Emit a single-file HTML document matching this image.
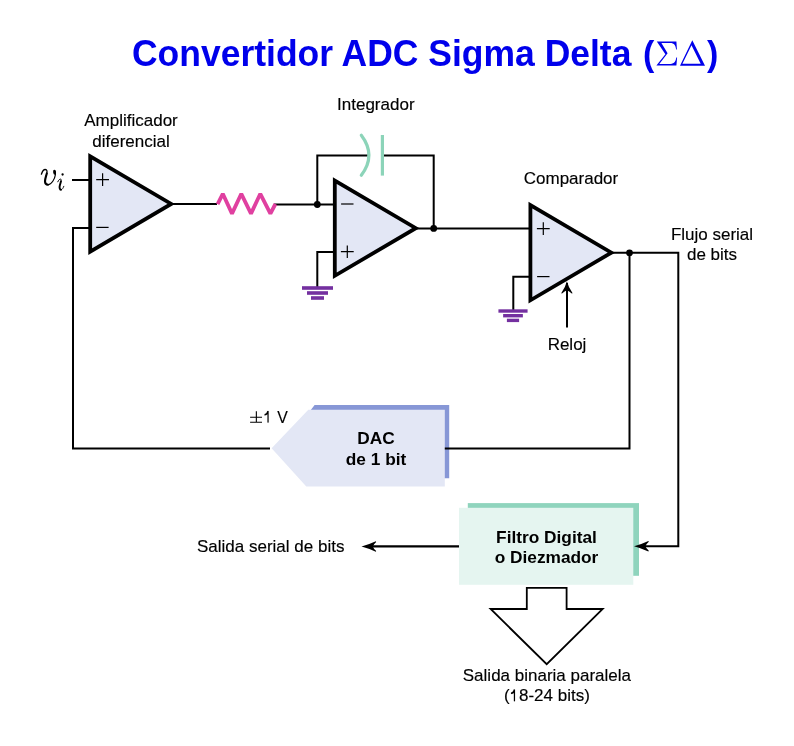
<!DOCTYPE html>
<html><head><meta charset="utf-8">
<style>
html,body{margin:0;padding:0;background:#fff;width:794px;height:746px;overflow:hidden}
svg{display:block;will-change:transform}
text{font-family:"Liberation Sans",sans-serif}
</style></head><body>
<svg width="794" height="746" viewBox="0 0 794 746">
<defs>
  <g id="oa">
    <path d="M0,0 L0,95.3 L81,47.65 Z" fill="#e3e7f5" stroke="#000" stroke-width="3.8" stroke-linejoin="miter"/>
  </g>
  <g id="plus"><path d="M-6.4,0 H6.4 M0,-6.3 V6.3" stroke="#000" stroke-width="1.2" fill="none"/></g>
  <g id="minus"><path d="M-6.2,0 H6.2" stroke="#000" stroke-width="1.2" fill="none"/></g>
  <g id="gnd" fill="#7430a0">
    <rect x="-15.5" y="-1.8" width="31" height="3.6"/>
    <rect x="-10.5" y="3.2" width="21" height="3.6"/>
    <rect x="-6.5" y="8.2" width="13" height="3.6"/>
  </g>
</defs>

<!-- Title -->
<g transform="translate(0,65.7) scale(1,1.055)">
<text x="132" y="0" font-size="35.5" font-weight="bold" fill="#0000eb">Convertidor ADC Sigma Delta</text>
<text id="lp" x="643" y="0.2" font-size="34" font-weight="bold" fill="#0000eb">(</text>
<text id="rp" x="707" y="0.2" font-size="34" font-weight="bold" fill="#0000eb">)</text>
</g>
<g fill="#0000eb">
<path d="M656.8,41.4 H676.4 L676.9,49.6 H676.1 C675.6,45.5 674.5,43.1 670,43.1 H661.4 L667.6,53.3 L659.3,63.9 H670.5 C674.5,63.9 675.8,61 676.3,57.6 H677.1 L676.4,65.6 H656.4 L665.4,54.2 Z"/>
<path fill-rule="evenodd" d="M692.3,40.2 L705,65.7 H680 Z M691.5,45.3 L682.4,63.7 H700.7 Z"/>
</g>

<!-- wires -->
<g stroke="#000" stroke-width="2" fill="none">
  <!-- vi input -->
  <path d="M72,180 H90"/>
  <!-- feedback from DAC to amp - -->
  <path d="M90,227.9 H73 V448.6 H270"/>
  <!-- amp out to resistor -->
  <path d="M170,204 H217"/>
  <path d="M274,204.4 H335"/>
  <!-- integrator feedback -->
  <path d="M317.3,204.4 V155.5 H369"/>
  <path d="M382,155.5 H433.7 V228.3"/>
  <path d="M335,252.1 H317.3 V287"/>
  <!-- integrator out to comparator + -->
  <path d="M413,228.4 L531,228.6"/>
  <!-- comparator - to ground -->
  <path d="M531,276.8 H513.3 V310"/>
  <!-- comparator out -->
  <path d="M609,252.8 H678.3 V546.3 H640"/>
  <!-- filter left out -->
  <path d="M459,546.4 H372" stroke-width="2.4"/>
  <!-- clock -->
  <path d="M567,327.6 V283"/>
</g>

<!-- dots -->
<g fill="#000">
  <circle cx="317.3" cy="204.5" r="3.4"/>
  <circle cx="433.7" cy="228.4" r="3.4"/>
  <circle cx="629.5" cy="252.8" r="3.4"/>
</g>

<!-- resistor -->
<path d="M217.6,204.2 L222.8,193.8 L232,213.6 L241.3,193.8 L251,213.6 L260.3,193.8 L270.4,213.6 L275.4,204" stroke="#e040a0" stroke-width="3.8" fill="none" stroke-linejoin="bevel"/>

<!-- capacitor -->
<path d="M361.3,135.3 Q376.5,155.4 361.3,175.3" stroke="#8cd4b9" stroke-width="3.2" fill="none" stroke-linecap="round"/>
<path d="M382.4,135 V175.6" stroke="#8cd4b9" stroke-width="3.2" fill="none"/>

<!-- op amps -->
<use href="#oa" x="90.2" y="156.3"/>
<use href="#oa" x="334.8" y="180.5"/>
<use href="#oa" x="530.4" y="205"/>

<use href="#plus" x="102.6" y="179.6"/>
<use href="#minus" x="102.4" y="227.4"/>
<use href="#minus" x="347.3" y="204"/>
<use href="#plus" x="347.3" y="251.7"/>
<use href="#plus" x="543.3" y="228.6"/>
<use href="#minus" x="543.3" y="276.6"/>

<!-- grounds -->
<use href="#gnd" x="317.5" y="288"/>
<use href="#gnd" transform="translate(513 311) scale(0.94)"/>

<!-- clock arrowhead -->
<path d="M566.9,281.2 Q568.5,287.5 572.6,293.2 L571.8,293.6 Q569,291 566.9,290.2 Q564.8,291 562,293.6 L561.2,293.2 Q565.3,287.5 566.9,281.2 Z" fill="#000"/>

<!-- DAC -->
<path d="M310.8,409.9 L314.6,405.1 H449.2 V478.2 H444 V409.9 Z" fill="#8797d6"/>
<path d="M271.6,448.3 L308.3,409.8 H444.8 V486.4 H306.3 Z" fill="#e3e7f5"/>
<path d="M629.5,252.8 V448.6 H444.8" stroke="#000" stroke-width="2" fill="none"/>
<text x="376" y="443.6" font-size="17.3" font-weight="bold" text-anchor="middle" fill="#000">DAC</text>
<text x="376" y="465" font-size="17.3" font-weight="bold" text-anchor="middle" fill="#000">de 1 bit</text>

<!-- Filter -->
<rect x="467.8" y="503.1" width="171.2" height="72.7" fill="#8fd4bd"/>
<rect x="459" y="507.8" width="174.3" height="77" fill="#e5f5f0"/>
<text x="546.5" y="542.8" font-size="17.3" font-weight="bold" text-anchor="middle" fill="#000">Filtro Digital</text>
<text x="546.5" y="563.2" font-size="17.3" font-weight="bold" text-anchor="middle" fill="#000">o Diezmador</text>

<!-- arrow into filter -->
<path d="M634.1,546.3 Q640.4,544.7 648.4,541 L648.8,541.8 Q646,544.3 645.4,546.3 Q646,548.3 648.8,550.8 L648.4,551.6 Q640.4,547.9 634.1,546.3 Z" fill="#000"/>
<!-- arrow left -->
<path d="M361.5,546.5 Q367.8,544.9 375.8,541.2 L376.2,542 Q373.4,544.5 372.8,546.5 Q373.4,548.5 376.2,551 L375.8,551.8 Q367.8,548.1 361.5,546.5 Z" fill="#000"/>

<!-- big arrow -->
<path d="M526.8,587.8 H566.6 V609 H602.7 L546.7,664.2 L490.6,609 H526.8 Z" fill="#fff" stroke="#000" stroke-width="1.8"/>

<!-- labels -->
<g font-size="17" fill="#000" stroke="#000" stroke-width="0.15">
<text x="131" y="125.9" text-anchor="middle">Amplificador</text>
<text x="131" y="146.6" text-anchor="middle">diferencial</text>
<text x="375.8" y="109.7" text-anchor="middle">Integrador</text>
<text x="571" y="183.6" text-anchor="middle">Comparador</text>
<text x="567" y="349.7" text-anchor="middle">Reloj</text>
<text x="712" y="240.2" text-anchor="middle">Flujo serial</text>
<text x="712" y="259.9" text-anchor="middle">de bits</text>
<text x="197" y="552.2">Salida serial de bits</text>
<text x="546.9" y="681.4" text-anchor="middle">Salida binaria paralela</text>
<text x="503.9" y="701.2">(</text><path transform="translate(247.1 278.6)" d="M267.9,422.6 V411 H266.6 C266.2,413 265,413.8 263.9,414 V415.4 C265.2,415.3 266.2,414.9 266.8,414.3 V422.6 Z"/><text x="519" y="701.2">8-24 bits)</text>
<path transform="translate(0.7 0)" d="M267.9,422.6 V411 H266.6 C266.2,413 265,413.8 263.9,414 V415.4 C265.2,415.3 266.2,414.9 266.8,414.3 V422.6 Z"/><text x="277.2" y="422.6" transform="translate(277.2 0) scale(0.93 1) translate(-277.2 0)">V</text>
</g>
<path d="M250.1,417.2 H262 M250.1,422.3 H262 M256.35,411.2 V422.3" stroke="#000" stroke-width="1.1" fill="none"/>
<!-- v_i -->
<g fill="none" stroke="#000" stroke-linecap="round">
<path d="M41.4,174.2 C42.2,171.6 43.6,169.5 45.3,169.5 C47,169.5 47.3,171.3 46.8,173.4" stroke-width="1.3"/>
<path d="M46.8,173.4 C46,176.5 45,179 45,181.3 C45,183.6 46.2,184.7 48,184.7" stroke-width="2.1"/>
<path d="M48,184.7 C51.6,184.7 54.8,179 55.4,174.6 C55.7,172.6 55.3,171.2 54.7,170.6" stroke-width="1.15"/>
<path d="M57.8,181.8 C58.6,180 59.6,179.1 60.5,179.1 C61.3,179.1 61.4,180 61,181.3" stroke-width="1"/>
<path d="M61,181.3 L59.8,185.5 C59.3,187.2 59.6,189.8 61,189.8" stroke-width="1.9"/>
<path d="M61,189.8 C62.4,189.8 63.4,187.6 63.8,186.3" stroke-width="0.9"/>
</g>
<g fill="#000">
<ellipse cx="54.6" cy="172.2" rx="1.45" ry="2.5" transform="rotate(-10 54.6 172.2)"/>
<circle cx="62.6" cy="174.5" r="1.15"/>
</g>
</svg>
</body></html>
